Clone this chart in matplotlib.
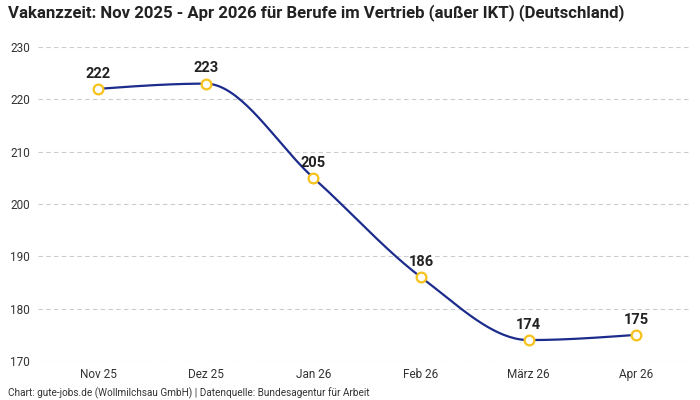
import numpy as np
import matplotlib
matplotlib.use('Agg')
import matplotlib.pyplot as plt

plt.rcParams['font.family'] = ['Roboto', 'DejaVu Sans']

# data
months = ['Nov 25', 'Dez 25', 'Jan 26', 'Feb 26', 'März 26', 'Apr 26']
vakanzzeit = [222, 223, 205, 186, 174, 175]

title = 'Vakanzzeit: Nov 2025 - Apr 2026 für Berufe im Vertrieb (außer IKT) (Deutschland)'
footer = 'Chart: gute-jobs.de (Wollmilchsau GmbH) | Datenquelle: Bundesagentur für Arbeit'


def monotone_curve(x, y, n=40):
    # monotone cubic (Fritsch-Carlson), like d3 curveMonotoneX
    x = np.asarray(x, float)
    y = np.asarray(y, float)
    h = np.diff(x)
    d = np.diff(y) / h
    m = np.zeros_like(y)
    for i in range(1, len(y) - 1):
        if d[i - 1] * d[i] <= 0:
            m[i] = 0
        else:
            m[i] = (d[i - 1] * h[i] + d[i] * h[i - 1]) / (h[i - 1] + h[i])
            m[i] = np.sign(m[i]) * min(abs(m[i]), 3 * min(abs(d[i - 1]), abs(d[i])))
    m[0] = (3 * d[0] - m[1]) / 2
    m[-1] = (3 * d[-1] - m[-2]) / 2
    xs, ys = [], []
    for i in range(len(h)):
        t = np.linspace(0, 1, n)
        h00 = 2 * t**3 - 3 * t**2 + 1
        h10 = t**3 - 2 * t**2 + t
        h01 = -2 * t**3 + 3 * t**2
        h11 = t**3 - t**2
        xs.append(x[i] + t * h[i])
        ys.append(h00 * y[i] + h10 * h[i] * m[i] + h01 * y[i + 1] + h11 * h[i] * m[i + 1])
    return np.concatenate(xs), np.concatenate(ys)


fig = plt.figure(figsize=(7, 4), dpi=100)
ax = fig.add_axes([0.054, 0.0975, 0.932, 0.785])

xpos = np.arange(len(months))
cx, cy = monotone_curve(xpos, vakanzzeit)
ax.plot(cx, cy, color='#1c2c8c', linewidth=1.6, zorder=3)
ax.plot(xpos, vakanzzeit, 'o', markersize=7, markerfacecolor='white',
        markeredgecolor='#f7c21b', markeredgewidth=1.6, zorder=4)

for xi, v in zip(xpos, vakanzzeit):
    ax.annotate(str(v), (xi, v), xytext=(0, 6), textcoords='offset points',
                ha='center', va='bottom', fontsize=10.5, fontweight='bold', color='#222222')

ax.set_xlim(-0.56, 5.5)
ax.set_ylim(170, 230)
ax.set_yticks(range(170, 231, 10))
ax.set_xticks(xpos)
ax.set_xticklabels(months)
ax.yaxis.grid(True, linestyle=(0, (4, 3)), color='#cccccc', linewidth=0.8)
ax.set_axisbelow(True)
for s in ax.spines.values():
    s.set_visible(False)
ax.tick_params(axis='both', length=0, labelsize=8.5, colors='#333333')
ax.tick_params(axis='x', pad=5)
ax.tick_params(axis='y', pad=0)
for lbl in ax.get_yticklabels():
    lbl.set_horizontalalignment('left')
    lbl.set_position((-0.042, lbl.get_position()[1]))

fig.text(0.011, 0.99, title, fontsize=12.1, fontweight='bold', color='#222222', va='top', ha='left')
fig.text(0.011, 0.0175, footer, fontsize=7.2, color='#333333', va='center', ha='left')

fig.savefig('out.png', dpi=100)
